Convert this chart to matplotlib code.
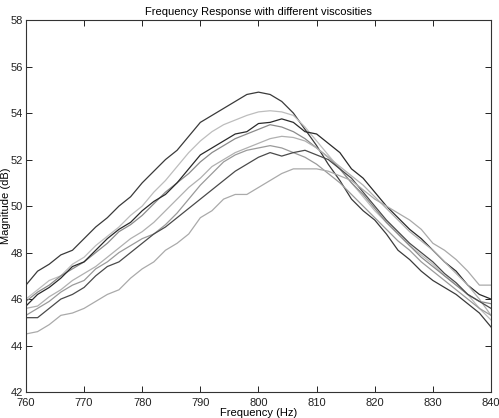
import matplotlib
matplotlib.use("Agg")
import matplotlib.pyplot as plt
import numpy as np

plt.rcParams['font.family'] = ['Liberation Sans', 'DejaVu Sans']

freq = np.arange(760, 841, 2)

# magnitudes (dB), one list per viscosity
mag_a = [46.6, 47.2, 47.5, 47.9, 48.1, 48.6, 49.1, 49.5, 50.0, 50.4, 51.0, 51.5, 52.0, 52.4,
         53.0, 53.6, 53.9, 54.2, 54.5, 54.8, 54.9, 54.8, 54.5, 54.0, 53.3, 52.6, 51.8, 51.1,
         50.3, 49.8, 49.4, 48.8, 48.1, 47.7, 47.2, 46.8, 46.5, 46.2, 45.8, 45.4, 44.8]
mag_b = [46.0, 46.4, 46.8, 47.0, 47.5, 47.8, 48.3, 48.7, 49.1, 49.6, 50.0, 50.6, 51.1, 51.7,
         52.3, 52.8, 53.2, 53.5, 53.7, 53.9, 54.05, 54.1, 54.05, 53.9, 53.4, 52.8, 52.2, 51.6,
         51.0, 50.4, 49.8, 49.3, 48.8, 48.3, 47.9, 47.5, 47.0, 46.6, 46.2, 45.6, 45.1]
mag_c = [45.9, 46.3, 46.6, 47.0, 47.3, 47.6, 48.0, 48.4, 48.9, 49.2, 49.6, 50.1, 50.6, 51.0,
         51.4, 51.9, 52.3, 52.6, 52.9, 53.1, 53.3, 53.5, 53.4, 53.2, 52.9, 52.5, 52.1, 51.6,
         51.0, 50.5, 49.9, 49.3, 48.8, 48.3, 47.8, 47.4, 47.0, 46.6, 46.2, 45.9, 45.8]
mag_d = [45.7, 46.2, 46.5, 46.9, 47.4, 47.6, 48.1, 48.6, 49.0, 49.3, 49.8, 50.2, 50.5, 51.0,
         51.6, 52.2, 52.5, 52.8, 53.1, 53.2, 53.55, 53.6, 53.75, 53.6, 53.2, 53.1, 52.7, 52.3,
         51.6, 51.2, 50.6, 50.0, 49.5, 49.0, 48.6, 48.1, 47.6, 47.2, 46.6, 46.2, 46.0]
mag_e = [45.6, 45.7, 46.1, 46.4, 46.8, 47.1, 47.4, 47.8, 48.2, 48.6, 48.9, 49.3, 49.8, 50.3,
         50.8, 51.2, 51.7, 52.0, 52.3, 52.5, 52.7, 52.9, 53.0, 52.95, 52.8, 52.5, 52.1, 51.7,
         51.3, 50.9, 50.4, 49.9, 49.4, 48.9, 48.5, 48.1, 47.6, 47.1, 46.6, 46.0, 45.3]
mag_f = [45.3, 45.6, 45.9, 46.3, 46.6, 46.8, 47.3, 47.6, 48.0, 48.3, 48.6, 48.8, 49.2, 49.7,
         50.3, 50.9, 51.4, 51.9, 52.2, 52.4, 52.5, 52.6, 52.5, 52.3, 52.1, 51.8, 51.4, 51.0,
         50.5, 50.0, 49.5, 49.0, 48.5, 48.1, 47.6, 47.2, 46.8, 46.4, 46.0, 45.6, 45.3]
mag_g = [45.2, 45.2, 45.6, 46.0, 46.2, 46.5, 47.0, 47.4, 47.6, 48.0, 48.4, 48.8, 49.1, 49.5,
         49.9, 50.3, 50.7, 51.1, 51.5, 51.8, 52.1, 52.3, 52.15, 52.3, 52.4, 52.2, 52.0, 51.6,
         51.2, 50.6, 50.0, 49.4, 48.9, 48.4, 48.0, 47.6, 47.1, 46.7, 46.2, 45.9, 45.6]
mag_h = [44.5, 44.6, 44.9, 45.3, 45.4, 45.6, 45.9, 46.2, 46.4, 46.9, 47.3, 47.6, 48.1, 48.4,
         48.8, 49.5, 49.8, 50.3, 50.5, 50.5, 50.8, 51.1, 51.4, 51.6, 51.6, 51.6, 51.5, 51.3,
         51.1, 50.7, 50.3, 50.0, 49.7, 49.4, 49.0, 48.4, 48.1, 47.7, 47.2, 46.6, 46.6]

curves = [mag_a, mag_b, mag_c, mag_d, mag_e, mag_f, mag_g, mag_h]
greys = ['#3a3a3a', '#bdbdbd', '#8a8a8a', '#2a2a2a', '#b0b0b0', '#9a9a9a', '#4a4a4a', '#aaaaaa']

fig = plt.figure(figsize=(4.99, 4.18), dpi=100)
ax = fig.add_axes([0.052, 0.062, 0.932, 0.890])

for m, c in zip(curves, greys):
    ax.plot(freq, m, color=c, linewidth=0.9)

ax.set_xlim(760, 840)
ax.set_ylim(42, 58)
ax.set_xticks(range(760, 841, 10))
ax.set_yticks(range(42, 59, 2))
ax.tick_params(direction='in', length=4, width=0.7, top=True, right=True,
               labelsize=8, pad=2, colors='#222222')
ax.tick_params(axis='x', pad=4)
for s in ax.spines.values():
    s.set_linewidth(0.8)
    s.set_color('#333333')

ax.set_title("Frequency Response with different viscosities", fontsize=8, pad=4)
ax.set_xlabel("Frequency (Hz)", fontsize=8, labelpad=0)
ax.set_ylabel("Magnitude (dB)", fontsize=8, labelpad=0)

fig.savefig("out.png", dpi=100)
